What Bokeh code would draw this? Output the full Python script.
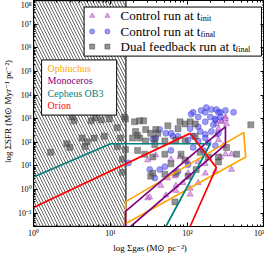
from bokeh.plotting import figure
from bokeh.models import Range1d, FixedTicker, LogAxis, Label
from bokeh.embed import file_html
from bokeh.resources import INLINE

# ---------------- data (log10 values) ----------------
# Dual feedback run at t_final (grey squares)
dual_log_gas = [0.525, 0.748, 0.801, 0.879, 1.089, 0.919, 0.787, 0.630, 0.696, 0.433,
                0.472, 0.223, 0.669, 1.129, 1.089, 1.155, 0.499, 0.984, 1.181, 1.194,
                1.312, 1.378, 1.430, 1.457, 1.325, 2.822, 1.588, 1.903, 1.969, 2.034,
                2.100, 1.877, 1.286, 1.378, 1.575, 1.614, 1.745, 1.352, 1.522, 1.457,
                1.575, 1.706, 1.850, 1.969, 2.100, 1.352, 1.194, 1.155, 1.444, 1.549,
                1.706, 1.916, 2.165, 2.270, 2.402, 1.785, 1.969, 1.549, 1.706, 1.850,
                2.008, 1.522, 2.507, 2.638, 2.402, 1.837, 2.113]
dual_log_sfr = [2.91, 2.91, 3.03, 2.95, 2.62, 2.26, 2.18, 2.18, 2.02, 1.94,
                1.78, 1.58, 1.82, 2.18, 1.82, 0.73, 3.07, 2.99, 3.07, 2.99,
                2.87, 2.91, 2.91, 2.54, 2.46, 2.74, 2.54, 2.87, 2.78, 2.87,
                2.78, 2.58, 2.18, 2.18, 2.14, 2.38, 2.70, 2.30, 2.38, 2.06,
                1.90, 2.06, 2.10, 2.06, 2.26, 1.66, 1.70, 1.29, 1.50, 1.38,
                1.50, 1.50, 1.58, 1.38, 1.38, 1.09, 1.25, 0.69, 0.65, 0.69,
                0.57, 0.57, 1.78, 1.50, 1.17, -0.52, 0.85]

# Control run at t_final (blue circles)
final_log_gas = [2.073, 2.178, 2.244, 2.310, 2.375, 2.428, 2.493, 2.598, 2.139, 2.297,
                 2.362, 2.428, 2.231, 2.336, 2.139, 2.034, 2.165, 1.640, 1.549, 1.588,
                 1.719, 1.811, 2.073, 2.231, 2.310, 2.402, 2.047, 2.231, 2.402, 2.362,
                 1.785, 1.877, 2.008, 2.139, 2.231, 1.509, 1.640, 1.575, 1.706, 1.785,
                 2.073, 2.270, 2.205, 2.362, 1.877, 2.008, 1.234]
final_log_sfr = [3.27, 3.35, 3.47, 3.39, 3.39, 3.27, 3.35, 3.27, 3.07, 3.07,
                 2.95, 3.07, 2.87, 2.74, 2.66, 2.58, 2.46, 2.54, 2.14, 2.18,
                 2.38, 2.26, 2.26, 2.34, 2.46, 2.38, 3.19, 3.27, 3.27, 2.99,
                 2.38, 2.26, 2.10, 2.06, 2.18, 0.85, 0.85, 0.49, 0.97, 1.66,
                 1.78, 1.98, 1.66, 1.86, 0.77, 1.05, 1.13]

# Control run at t_init (violet triangles)
init_log_gas = [1.483, 1.588, 1.785, 1.509, 1.719, 1.850, 1.942, 2.008, 2.034, 2.139,
                2.231, 2.362, 2.428, 2.572, 2.493, 2.467, 2.402, 2.441, 2.493, 1.837,
                1.745, 1.654, 2.231, 2.139, 2.402, 2.375, 1.903, 2.008, 2.572, 1.850,
                2.034, 2.493, 2.507, 2.441, 2.375, 1.483]
init_log_sfr = [1.25, 1.46, 1.29, -0.32, -0.24, 0.17, 0.29, 0.69, 0.05, 0.29,
                0.69, 0.77, 1.38, 0.85, 1.50, 1.86, 2.58, 2.91, 3.07, 0.57,
                0.49, 0.17, 1.09, 1.17, 2.10, 2.30, 1.38, 1.17, 1.50, -0.04,
                -0.20, 2.99, 2.78, 2.87, 2.78, -0.36]

# Observed clouds (outlines, log10 gas vs log10 SFR)
ophiuchus_log_gas = [1.194, 2.730, 2.756, 1.194, 1.194]
ophiuchus_log_sfr = [-0.518, 2.422, 1.375, -1.444, -0.518]
monoceros_log_gas = [1.262, 2.493, 2.493, 1.194, 1.194]
monoceros_log_sfr = [-1.56, 1.899, 2.664, -0.921, -1.56]
cepheus_log_gas = [0.0, 1.0, 2.297, 1.719]
cepheus_log_sfr = [0.53, 1.94, 1.94, -1.56]
orion_log_gas = [0.0, 2.034, 2.375, 2.034]
orion_log_sfr = [-0.76, 2.38, 0.93, -1.56]

cloud_names = ["Ophiuchus", "Monoceros", "Cepheus OB3", "Orion"]
cloud_colors = ["#FFA500", "#800080", "#008080", "#FF0000"]

hatch_log_gas = 1.2           # resolution limit (hatched area)
x_log_range = (0.0, 3.0)
y_log_range = (-1.56, 8.0)
x_tick_exps = [0, 1, 2, 3]
y_tick_exps = [-1, 0, 1, 2, 3, 4, 5, 6, 7, 8]

SUP = str.maketrans("-0123456789", "⁻⁰¹²³⁴⁵⁶⁷⁸⁹")


def tick_label(e):
    return "10" + str(e).translate(SUP)


def pw(v):
    return [10 ** a for a in v]


FONT = "Liberation Serif"

p = figure(width=264, height=255, x_axis_type="log", y_axis_type="log",
           x_range=Range1d(10 ** x_log_range[0], 10 ** x_log_range[1]),
           y_range=Range1d(10 ** y_log_range[0], 10 ** y_log_range[1]),
           output_backend="svg", toolbar_location=None,
           min_border_left=29, min_border_right=0, min_border_top=0, min_border_bottom=22)
p.xgrid.visible = False
p.ygrid.visible = False
p.outline_line_color = "black"
p.outline_line_width = 1
p.background_fill_color = "white"
p.border_fill_color = "white"


def minor_list(exps_lo, exps_hi):
    out = []
    for e in range(exps_lo, exps_hi + 1):
        for m in range(2, 10):
            out.append(m * 10 ** e)
    return out


x_ticker = FixedTicker(ticks=[10 ** e for e in x_tick_exps], minor_ticks=minor_list(-1, 3))
y_ticker = FixedTicker(ticks=[10 ** e for e in y_tick_exps], minor_ticks=minor_list(-2, 8))


def style_axis(ax, ticker, exps, labels=True):
    ax.ticker = ticker
    ax.major_tick_in = 4
    ax.major_tick_out = 0
    ax.minor_tick_in = 2
    ax.minor_tick_out = 0
    ax.axis_line_color = "black"
    ax.major_tick_line_color = "black"
    ax.minor_tick_line_color = "black"
    ax.major_label_overrides = {10 ** e: tick_label(e) for e in exps}
    ax.major_label_text_font = FONT
    if labels:
        ax.major_label_text_font_size = "8px"
        ax.major_label_text_color = "black"
        ax.major_label_standoff = 2
    else:
        ax.major_label_text_font_size = "1px"
        ax.major_label_text_alpha = 0
        ax.major_label_standoff = 0


style_axis(p.xaxis[0], x_ticker, x_tick_exps)
style_axis(p.yaxis[0], y_ticker, y_tick_exps)
p.xaxis[0].axis_label = "log Σgas (M⊙ pc⁻²)"
p.yaxis[0].axis_label = "log ΣSFR (M⊙ Myr⁻¹ pc⁻²)"
for ax in (p.xaxis[0], p.yaxis[0]):
    ax.axis_label_text_font = FONT
    ax.axis_label_text_font_size = "9px"
    ax.axis_label_text_font_style = "normal"
    ax.axis_label_standoff = 2
    ax.axis_label_text_color = "black"

top_ax = LogAxis()
style_axis(top_ax, x_ticker, x_tick_exps, labels=False)
p.add_layout(top_ax, "above")
right_ax = LogAxis()
style_axis(right_ax, y_ticker, y_tick_exps, labels=False)
p.add_layout(right_ax, "right")

# hatched (unresolved) region
ylo, yhi = 10 ** y_log_range[0], 10 ** y_log_range[1]
p.quad(left=[10 ** x_log_range[0]], right=[10 ** hatch_log_gas], bottom=[ylo], top=[yhi],
       fill_color=None, line_color="#444444", line_width=1.5,
       hatch_pattern="left_diagonal_line", hatch_color="black", hatch_weight=0.6, hatch_scale=6)

# simulation points
p.scatter(pw(init_log_gas), pw(init_log_sfr), marker="triangle", size=6,
          fill_color="#c266d6", fill_alpha=0.55, line_color="#9a3fb0", line_alpha=0.5)
p.scatter(pw(final_log_gas), pw(final_log_sfr), marker="circle", size=6,
          fill_color="#4a4af0", fill_alpha=0.55, line_color="#3a3ad0", line_alpha=0.4)
p.scatter(pw(dual_log_gas), pw(dual_log_sfr), marker="square", size=6,
          fill_color="#4a4a4a", fill_alpha=0.6, line_color="#4a4a4a", line_alpha=0.4)

# observed clouds
for gx, gy, col in [(ophiuchus_log_gas, ophiuchus_log_sfr, cloud_colors[0]),
                    (monoceros_log_gas, monoceros_log_sfr, cloud_colors[1]),
                    (cepheus_log_gas, cepheus_log_sfr, cloud_colors[2]),
                    (orion_log_gas, orion_log_sfr, cloud_colors[3])]:
    p.line(pw(gx), pw(gy), line_color=col, line_width=1.7)


# ---------------- legends (positions as fractions of the frame) ----------------
def fx(f):
    return 10 ** (x_log_range[0] + f * (x_log_range[1] - x_log_range[0]))


def fy(f):
    return 10 ** (y_log_range[0] + f * (y_log_range[1] - y_log_range[0]))


# legend 1: simulation markers
p.quad(left=[fx(0.219)], right=[fx(0.987)], bottom=[fy(0.754)], top=[fy(0.971)],
       fill_color="white", line_color="black", line_width=1)
rows = [0.932, 0.863, 0.796]
marker_specs = [("triangle", "#c266d6", "#9a3fb0", 0.55),
                ("circle", "#4a4af0", "#3a3ad0", 0.55),
                ("square", "#4a4a4a", "#4a4a4a", 0.6)]
for ry, (mk, fc, lc, fa) in zip(rows, marker_specs):
    p.scatter([fx(0.254), fx(0.320)], [fy(ry), fy(ry)], marker=mk, size=5,
              fill_color=fc, fill_alpha=fa, line_color=lc, line_alpha=0.5)
legend_texts = [("Control run at t", "init", 80),
                ("Control run at t", "final", 80),
                ("Dual feedback run at t", "final", 115)]
for ry, (txt, sub, off) in zip(rows, legend_texts):
    p.add_layout(Label(x=fx(0.377), y=fy(ry), text=txt, text_font=FONT, text_font_size="13px",
                       text_baseline="middle", text_align="left", text_color="black"))
    p.add_layout(Label(x=fx(0.377), y=fy(ry), x_offset=off, y_offset=-3, text=sub,
                       text_font=FONT, text_font_size="8px",
                       text_baseline="middle", text_align="left", text_color="black"))

# legend 2: observed clouds
p.quad(left=[fx(0.035)], right=[fx(0.360)], bottom=[fy(0.493)], top=[fy(0.737)],
       fill_color="white", line_color="black", line_width=1)
rows2 = [0.699, 0.644, 0.589, 0.537]
for ry, name, col in zip(rows2, cloud_names, cloud_colors):
    p.add_layout(Label(x=fx(0.061), y=fy(ry), text=name, text_font=FONT, text_font_size="10px",
                       text_baseline="middle", text_align="left", text_color=col))

open("out.html", "w").write(file_html(p, INLINE))
